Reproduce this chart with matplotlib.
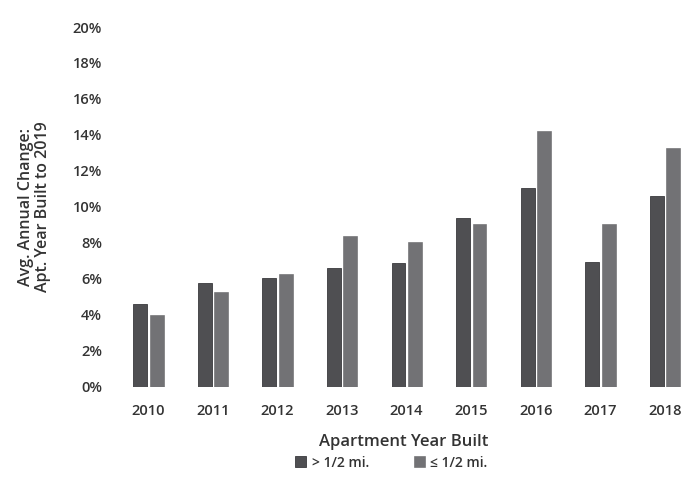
import matplotlib.pyplot as plt
import numpy as np

years = ['2010', '2011', '2012', '2013', '2014', '2015', '2016', '2017', '2018']
far = [4.6, 5.8, 6.05, 6.6, 6.9, 9.4, 11.05, 6.95, 10.6]    # > 1/2 mi.
near = [4.0, 5.3, 6.3, 8.4, 8.05, 9.05, 14.2, 9.05, 13.3]   # <= 1/2 mi.
yticks = [0, 2, 4, 6, 8, 10, 12, 14, 16, 18, 20]

plt.rcParams['font.family'] = ['Open Sans', 'DejaVu Sans']
plt.rcParams['font.weight'] = 'semibold'
plt.rcParams['axes.labelweight'] = 'semibold'

fig = plt.figure(figsize=(6.99, 4.91), dpi=100)
ax = fig.add_axes([0.166, 0.212, 0.822, 0.733])

x = np.arange(len(years))
w = 0.215
b1 = ax.bar(x - 0.125, far, w, color='#4f4f52', edgecolor='#3a3a3d', linewidth=0.6, label='> 1/2 mi.')
b2 = ax.bar(x + 0.13, near, w, color='#727275', edgecolor='#666669', linewidth=0.4, label='\u2264 1/2 mi.')

ax.set_xlim(-0.5, 8.4)
ax.set_ylim(0, 20)
ax.set_yticks(yticks)
ax.set_yticklabels(['{}%'.format(t) for t in yticks])
ax.set_xticks(x)
ax.set_xticklabels(years)
ax.tick_params(length=0, labelsize=10.5, colors='#333333')
ax.tick_params(axis='y', pad=10)
ax.tick_params(axis='x', pad=12)
for s in ax.spines.values():
    s.set_visible(False)

ax.set_ylabel('Avg. Annual Change:\nApt. Year Built to 2019', fontsize=11.5, color='#333333',
              labelpad=16, linespacing=1.05)
ax.set_xlabel('Apartment Year Built', fontsize=12, color='#333333', labelpad=12)

fig.legend(handles=[b1, b2], loc='center', bbox_to_anchor=(0.56, 0.058), ncol=2, frameon=False,
           fontsize=10, handlelength=0.8, handleheight=0.8, handletextpad=0.4, columnspacing=3.2,
           labelcolor='#333333')

plt.savefig('out.png', dpi=100)
